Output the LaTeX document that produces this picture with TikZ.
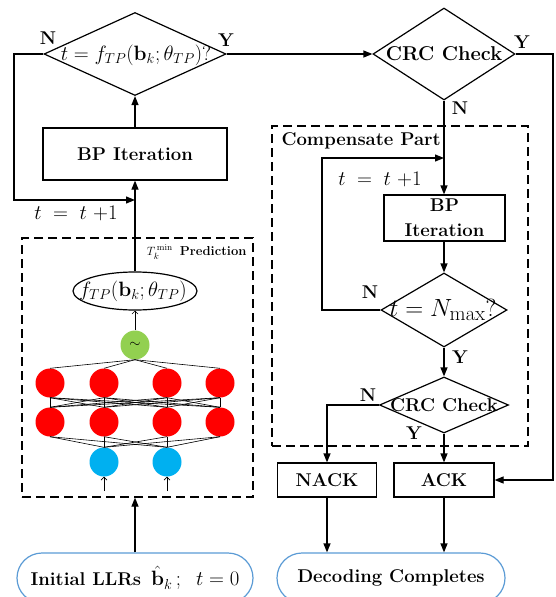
\documentclass[tikz,border=0pt]{standalone}
\usepackage{amsmath}
\usetikzlibrary{shapes.geometric,shapes.misc,arrows.meta}
\definecolor{termblue}{RGB}{91,155,213}
\definecolor{nnred}{RGB}{255,0,0}
\definecolor{nnblue}{RGB}{0,176,240}
\definecolor{nngreen}{RGB}{146,208,80}
\tikzset{
  big/.style={font=\fontsize{18.5}{25}\selectfont\bfseries},
  bigger/.style={font=\fontsize{20}{25}\selectfont\bfseries},
  mathbig/.style={font=\fontsize{20.74}{24}\selectfont},
  mathhuge/.style={font=\fontsize{24.88}{28}\selectfont},
  box/.style={draw, line width=1.2pt, inner sep=0pt, big},
  dia/.style={draw, diamond, line width=1.2pt, inner sep=0pt},
  flow/.style={line width=1.2pt, -{Triangle[length=9pt,width=7pt]}},
  dashbox/.style={draw, line width=1.2pt, dash pattern=on 9pt off 5pt, inner sep=0pt},
  term/.style={draw=termblue, line width=1.2pt, rounded rectangle, inner sep=0pt, big},
  neuron/.style={circle, inner sep=0pt, minimum size=29pt},
  syn/.style={line width=0.6pt},
  thinarrow/.style={line width=0.6pt, -{Straight Barb[length=3pt,width=6pt]}},
  lab/.style={big}
}
\begin{document}
\begin{tikzpicture}[x=1pt,y=-1pt]
\useasboundingbox (0,0) rectangle (556,597);

% ---------- left column ----------
\node[dia, minimum width=182pt, minimum height=83pt] (d1) at (135,54) {};
\node[mathbig] (d1t) at (136,55) {$t=f_{TP}(\mathbf{b}_k;\theta_{TP})?$};
\node[lab] (n1) at (48,38) {N};
\node[lab] (y1) at (226,40) {Y};

\node[box, minimum width=184pt, minimum height=52pt] (bp1) at (135,154) {BP Iteration};
\draw[flow] (bp1.north) -- (d1.south);

\coordinate (j1) at (135,200);
\draw[flow] (d1.west) -- (14,54) |- (j1);
\node[mathbig] (inc1) at (76,213) {$t\;=\;t\ {+}1$};

\node[dashbox, minimum width=231pt, minimum height=259pt] (pred) at (137.5,367.5) {};
\node[font=\fontsize{13}{15}\selectfont\bfseries, anchor=east] (plab) at (250,252) {$T_k^{\,\mathrm{min}}$\, Prediction};

\node[draw, ellipse, line width=1.2pt, minimum width=124pt, minimum height=38pt, inner sep=0pt] (ell) at (135,291) {};
\node[mathbig] (ellt) at (133,291) {$f_{TP}(\mathbf{b}_k;\theta_{TP})$};
\draw[flow] (ell.north) -- (bp1.south);

\node[neuron, fill=nngreen] (g) at (135,345) {\fontsize{14.4}{14}\selectfont$\sim$};
\draw[thinarrow] (g.north) -- (ell.south);

\foreach \x [count=\i] in {50,104,167,220} {
  \node[neuron, fill=nnred] (ra\i) at (\x,383) {};
  \node[neuron, fill=nnred] (rb\i) at (\x,422) {};
}
\node[neuron, fill=nnblue] (bl1) at (104,462) {};
\node[neuron, fill=nnblue] (bl2) at (167,462) {};

\foreach \i in {1,...,4} {
  \draw[syn] (g.south) -- (ra\i.north);
  \foreach \j in {1,...,4} { \draw[syn] (ra\i.south) -- (rb\j.north); }
  \foreach \j in {1,2} { \draw[syn] (rb\i.south) -- (bl\j.north); }
}
\coordinate (in1) at (104,491);
\coordinate (in2) at (167,491);
\draw[thinarrow] (in1) -- (bl1.south);
\draw[thinarrow] (in2) -- (bl2.south);

\node[term, minimum width=236pt, minimum height=50pt] (init) at (135,578) {Initial LLRs\, \fontsize{20.74}{24}\selectfont$\hat{\mathbf{b}}_{k}\,;\;\; t=0$};
\draw[flow] (init.north) -- (init.north |- pred.south);

% ---------- right column ----------
\node[dia, minimum width=142pt, minimum height=92pt] (c1) at (444,54) {};
\node[bigger] (c1t) at (444,54) {CRC Check};
\draw[flow] (d1.east) -- (c1.west);
\node[lab] (y2) at (522,42) {Y};
\node[lab] (n2) at (460,108) {N};

\node[dashbox, minimum width=256pt, minimum height=320pt] (comp) at (400,286) {};
\node[big, anchor=west] (clab) at (278,141) {Compensate Part};

\node[box, minimum width=121pt, minimum height=46pt, align=center] (bp2) at (444.5,218) {BP\\Iteration};
\draw[flow] (c1.south) -- (bp2.north -| c1.south);

\node[dia, minimum width=126pt, minimum height=74pt] (d2) at (444,310) {};
\node[mathhuge] (d2t) at (443,310) {$t=N_{\max}?$};
\draw[flow] (bp2.south -| d2.north) -- (d2.north);
\coordinate (j2) at (444,158);
\draw[flow] (d2.west) -- (322,310) |- (j2);
\node[mathbig] (inc2) at (380,179) {$t\;=\;t\ {+}1$};
\node[lab] (n3) at (370,292) {N};
\node[lab] (y3) at (460,357) {Y};

\node[dia, minimum width=129pt, minimum height=56pt] (d3) at (444,405) {};
\node[big] (d3t) at (444,405) {CRC Check};
\draw[flow] (d2.south) -- (d3.north);
\node[lab] (n4) at (368,395) {N};
\node[lab] (y4) at (414,433) {Y};

\node[box, minimum width=99pt, minimum height=34pt] (nack) at (327,480) {NACK};
\node[box, minimum width=100pt, minimum height=34pt] (ack) at (444,480) {ACK};
\draw[flow] (d3.west) -| (nack.north);
\draw[flow] (d3.south) -- (ack.north);
\draw[flow] (c1.east) -- (553,54) |- (ack.east);

\node[term, minimum width=228pt, minimum height=50pt] (dec) at (391,578) {Decoding Completes};
\draw[flow] (nack.south) -- (nack.south |- dec.north);
\draw[flow] (ack.south) -- (ack.south |- dec.north);
\end{tikzpicture}
\end{document}
